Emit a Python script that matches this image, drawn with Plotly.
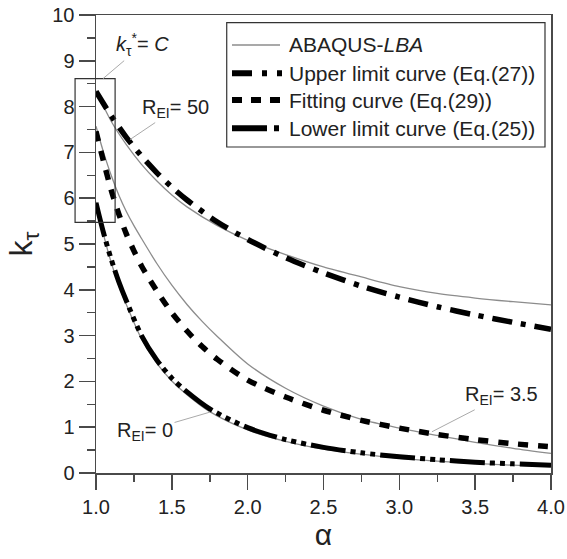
import plotly.graph_objects as go

# ---------------- data ----------------
alpha_50 = [1.0, 1.1, 1.2, 1.3, 1.4, 1.5, 1.6, 1.8, 2.0, 2.25, 2.5, 2.75, 3.0, 3.25, 3.5, 3.75, 4.0]
abaqus_50 = [8.35, 7.68, 7.17, 6.74, 6.38, 6.07, 5.81, 5.40, 5.08, 4.77, 4.50, 4.28, 4.07, 3.92, 3.82, 3.74, 3.67]
upper_50 = [8.33, 7.80, 7.33, 6.92, 6.56, 6.24, 5.96, 5.48, 5.10, 4.70, 4.37, 4.08, 3.84, 3.63, 3.45, 3.29, 3.14]

alpha_35 = [1.0, 1.05, 1.1, 1.15, 1.2, 1.25, 1.3, 1.4, 1.5, 1.6, 1.7, 1.8, 2.0, 2.25, 2.5, 2.75, 3.0, 3.25, 3.5, 3.75, 4.0]
abaqus_35 = [7.57, 7.00, 6.50, 6.07, 5.71, 5.40, 5.12, 4.58, 4.10, 3.68, 3.31, 2.98, 2.38, 1.85, 1.46, 1.17, 0.98, 0.82, 0.67, 0.54, 0.43]
fitting_35 = [7.46, 6.80, 6.18, 5.66, 5.22, 4.85, 4.52, 3.98, 3.50, 3.10, 2.76, 2.48, 2.03, 1.66, 1.37, 1.15, 0.98, 0.84, 0.73, 0.64, 0.575]

alpha_0 = [1.0, 1.05, 1.1, 1.15, 1.2, 1.3, 1.4, 1.5, 1.6, 1.75, 2.0, 2.25, 2.5, 2.75, 3.0, 3.25, 3.5, 3.75, 4.0]
abaqus_0 = [5.92, 5.20, 4.60, 4.10, 3.68, 2.93, 2.40, 2.01, 1.71, 1.34, 0.94, 0.69, 0.52, 0.41, 0.32, 0.26, 0.21, 0.17, 0.145]
lower_0 = [5.90, 5.24, 4.67, 4.18, 3.76, 3.00, 2.47, 2.07, 1.77, 1.40, 0.99, 0.73, 0.56, 0.44, 0.355, 0.29, 0.235, 0.20, 0.17]

legend_names = ["ABAQUS-<i>LBA</i>", "Upper limit curve (Eq.(27))",
                "Fitting curve (Eq.(29))", "Lower limit curve (Eq.(25))"]
x_ticks = [1.0, 1.5, 2.0, 2.5, 3.0, 3.5, 4.0]
x_tick_text = ["1.0", "1.5", "2.0", "2.5", "3.0", "3.5", "4.0"]
y_ticks = [0, 1, 2, 3, 4, 5, 6, 7, 8, 9, 10]

FONT = "Liberation Sans, Arial, Helvetica, sans-serif"
TXT = "#222222"
GRAY = "#8c8c8c"
AX = "#4a4a4a"

styles = [
    dict(color=GRAY, width=1.3),
    dict(color="black", width=5.5, dash="20px,9px,5px,9px"),
    dict(color="black", width=5.5, dash="10px,10px"),
    dict(color="black", width=5, dash="35px,5px,5px,5px,5px,5px,5px,5px"),
]

fig = go.Figure()

# ABAQUS thin grey curves
for xs, ys in [(alpha_50, abaqus_50), (alpha_35, abaqus_35), (alpha_0, abaqus_0)]:
    fig.add_trace(go.Scatter(x=xs, y=ys, mode="lines", name=legend_names[0],
                             line=dict(**styles[0], shape="spline", smoothing=0.8),
                             showlegend=False))

for (xs, ys), name, st in zip([(alpha_50, upper_50), (alpha_35, fitting_35), (alpha_0, lower_0)],
                              legend_names[1:], styles[1:]):
    fig.add_trace(go.Scatter(x=xs, y=ys, mode="lines", name=name,
                             line=dict(**st, shape="spline", smoothing=0.8),
                             showlegend=False))

# ---------------- legend box (drawn by hand to match the reference) ----------------
fig.add_shape(type="rect", xref="paper", yref="paper",
              x0=0.2873, x1=0.9868, y0=0.7118, y1=0.9832,
              line=dict(color="#333333", width=1.2), fillcolor="white", layer="above")
legend_rows = [0.9345, 0.8727, 0.8144, 0.7526]
legend_dash = [None, "20px,10px,5px,10px,5px,30px", "10px,9px", "35px,7px,5px,30px"]
legend_x1 = [0.4044, 0.4110, 0.4110, 0.4044]
for i, yy in enumerate(legend_rows):
    ln = dict(color=styles[i]["color"], width=(1.3 if i == 0 else 6))
    if legend_dash[i]:
        ln["dash"] = legend_dash[i]
    fig.add_shape(type="line", xref="paper", yref="paper",
                  x0=0.2989, x1=legend_x1[i], y0=yy, y1=yy, line=ln, layer="above")
    fig.add_annotation(x=0.4198, y=yy, xref="paper", yref="paper", xanchor="left",
                       yanchor="middle", text=legend_names[i], showarrow=False,
                       font=dict(family=FONT, size=21, color=TXT))

# k*=C box (drawn in axis-domain units so it is not clipped at the axis)
fig.add_shape(type="rect", xref="x domain", yref="y domain",
              x0=-0.046, x1=0.042, y0=0.547, y1=0.861,
              line=dict(color="#333333", width=1.2), fillcolor="rgba(0,0,0,0)")

ann_font = dict(family=FONT, size=20, color=TXT)
anns = [
    dict(x=1.046, y=8.61, ax=40, ay=-34, text="<i>k</i><sub>τ</sub><sup>*</sup>= <i>C</i>"),
    dict(x=1.224, y=7.28, ax=46, ay=-31, text="R<sub>EI</sub>= 50"),
    dict(x=3.215, y=0.90, ax=70, ay=-36, text="R<sub>EI</sub>= 3.5"),
    dict(x=1.752, y=1.33, ax=-65, ay=19, text="R<sub>EI</sub>= 0"),
]
for a in anns:
    fig.add_annotation(x=a["x"], y=a["y"], ax=a["ax"], ay=a["ay"], text=a["text"],
                       xref="x", yref="y", axref="pixel", ayref="pixel",
                       showarrow=True, arrowhead=0, arrowwidth=1, arrowcolor="#aaaaaa",
                       standoff=0, font=ann_font)

fig.update_xaxes(
    range=[1, 4], tickvals=x_ticks, ticktext=x_tick_text,
    ticks="outside", ticklen=15, tickwidth=1.5, tickcolor=AX,
    minor=dict(dtick=0.25, ticks="outside", ticklen=7, tickwidth=1.5, tickcolor=AX),
    showline=True, linecolor=AX, linewidth=1.5, mirror=True,
    showgrid=False, zeroline=False, automargin=False, ticklabeloverflow="allow",
    tickfont=dict(family=FONT, size=20, color=TXT),
    title=dict(text="α", font=dict(family=FONT, size=30, color=TXT), standoff=6),
)
fig.update_yaxes(
    range=[0, 10], tickvals=y_ticks,
    ticks="outside", ticklen=16, tickwidth=1.5, tickcolor=AX,
    minor=dict(dtick=0.5, ticks="outside", ticklen=8, tickwidth=1.5, tickcolor=AX),
    showline=True, linecolor=AX, linewidth=1.5, mirror=True,
    showgrid=False, zeroline=False, automargin=False, ticklabeloverflow="allow",
    tickfont=dict(family=FONT, size=20, color=TXT),
    title=dict(text="k<sub>τ</sub>", font=dict(family=FONT, size=32, color=TXT), standoff=10),
)

fig.update_layout(
    width=567, height=559,
    margin=dict(l=96, r=16, t=15, b=86),
    paper_bgcolor="white", plot_bgcolor="white",
    font=dict(family=FONT, size=20, color=TXT),
    showlegend=False,
)

# remove the browser's default 8px body margin so the figure fills the window
fig.write_html("out.html",
               config={"displayModeBar": False, "staticPlot": True},
               post_script="document.body.style.margin='0';document.body.style.overflow='hidden';")
